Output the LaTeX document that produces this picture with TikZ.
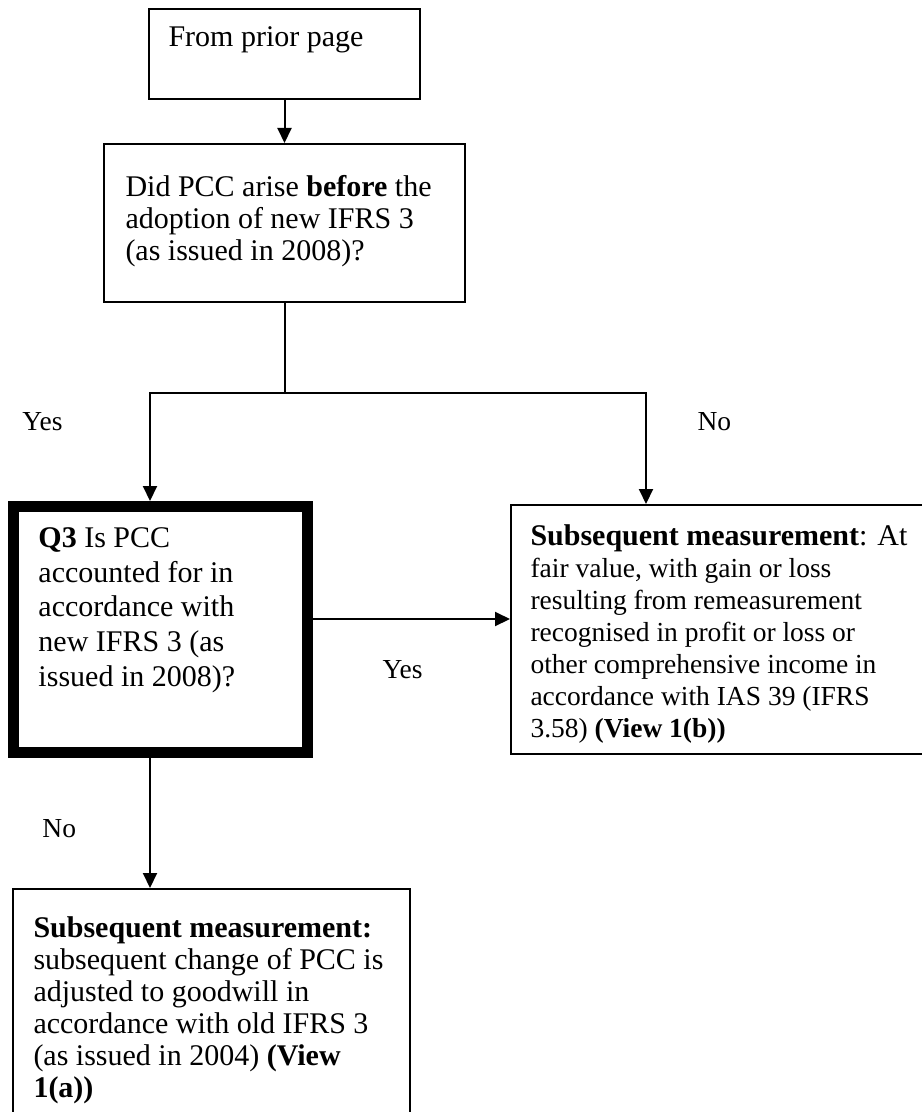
\documentclass[tikz,border=0pt]{standalone}
\usepackage{fontspec}
\setmainfont{Liberation Serif}
\usetikzlibrary{arrows.meta,fit}
\begin{document}
\begin{tikzpicture}[x=0.4pt,y=-0.4pt,
  box/.style={draw, line width=0.8pt, inner sep=0pt, outer sep=0.4pt},
  thickbox/.style={draw, line width=4.4pt, inner sep=0pt, outer sep=2.2pt},
  conn/.style={line width=0.8pt, -{Triangle[length=6pt,width=5.6pt]}},
  plain/.style={line width=0.8pt},
  txt/.style={anchor=north west, inner sep=0pt, align=left, font=\fontsize{11}{12.8}\selectfont},
  midtxt/.style={anchor=north west, inner sep=0pt, align=left, font=\fontsize{12}{12.8}\selectfont},
  bigtxt/.style={anchor=north west, inner sep=0pt, align=left, font=\fontsize{12}{13.9}\selectfont},
  lbl/.style={anchor=base west, inner sep=0pt, font=\fontsize{11}{12.8}\selectfont}]
\useasboundingbox (0,0) rectangle (921,1112);
\fill[white] (0,0) rectangle (921,1112);
% boxes
\node[box, fit={(149,9) (420,99)}] (b1) {};
\node[box, fit={(104,144) (465,302)}] (b2) {};
\node[thickbox, fit={(13.5,506.5) (307.5,752.5)}] (q3) {};
\node[box, fit={(511,505) (926,754)}] (rb) {};
\node[box, fit={(13,889) (410,1118)}] (bb) {};
% texts
\node[bigtxt] (t1) at (168,26) {From prior page};
\node[midtxt] (t2) at (125,175) {Did PCC arise \textbf{before} the\\adoption of new IFRS 3\\(as issued in 2008)?};
\node[bigtxt] (t3) at (38,527) {\textbf{Q3} Is PCC\\accounted for in\\accordance with\\new IFRS 3 (as\\issued in 2008)?};
\node[txt] (t4) at (530,524) {{\fontsize{12}{12.8}\selectfont\textbf{Subsequent measurement}: At}\\fair value, with gain or loss\\resulting from remeasurement\\recognised in profit or loss or\\other comprehensive income in\\accordance with IAS 39 (IFRS\\3.58) \textbf{(View 1(b))}};
\node[midtxt] (t5) at (33,916) {\textbf{Subsequent measurement:}\\subsequent change of PCC is\\adjusted to goodwill in\\accordance with old IFRS 3\\(as issued in 2004) \textbf{(View}\\\textbf{1(a))}};
% labels
\node[lbl] (yes1) at (22,430) {Yes};
\node[lbl] (no1) at (697,430) {No};
\node[lbl] (yes2) at (382,678) {Yes};
\node[lbl] (no2) at (42,837) {No};
% connectors
\coordinate (j) at (b2.south |- 0,393);
\coordinate (jl) at (150,393);
\coordinate (jr) at (646,393);
\coordinate (h) at (0,619);
\draw[conn] (b1.south) -- (b2.north);
\draw[plain] (b2.south) -- (j);
\draw[conn] (j) -| (jl |- q3.north);
\draw[conn] (j) -| (jr |- rb.north);
\draw[conn] (q3.east |- h) -- (rb.west |- h);
\draw[conn] (q3.south -| jl) -- (bb.north -| jl);
\end{tikzpicture}
\end{document}
